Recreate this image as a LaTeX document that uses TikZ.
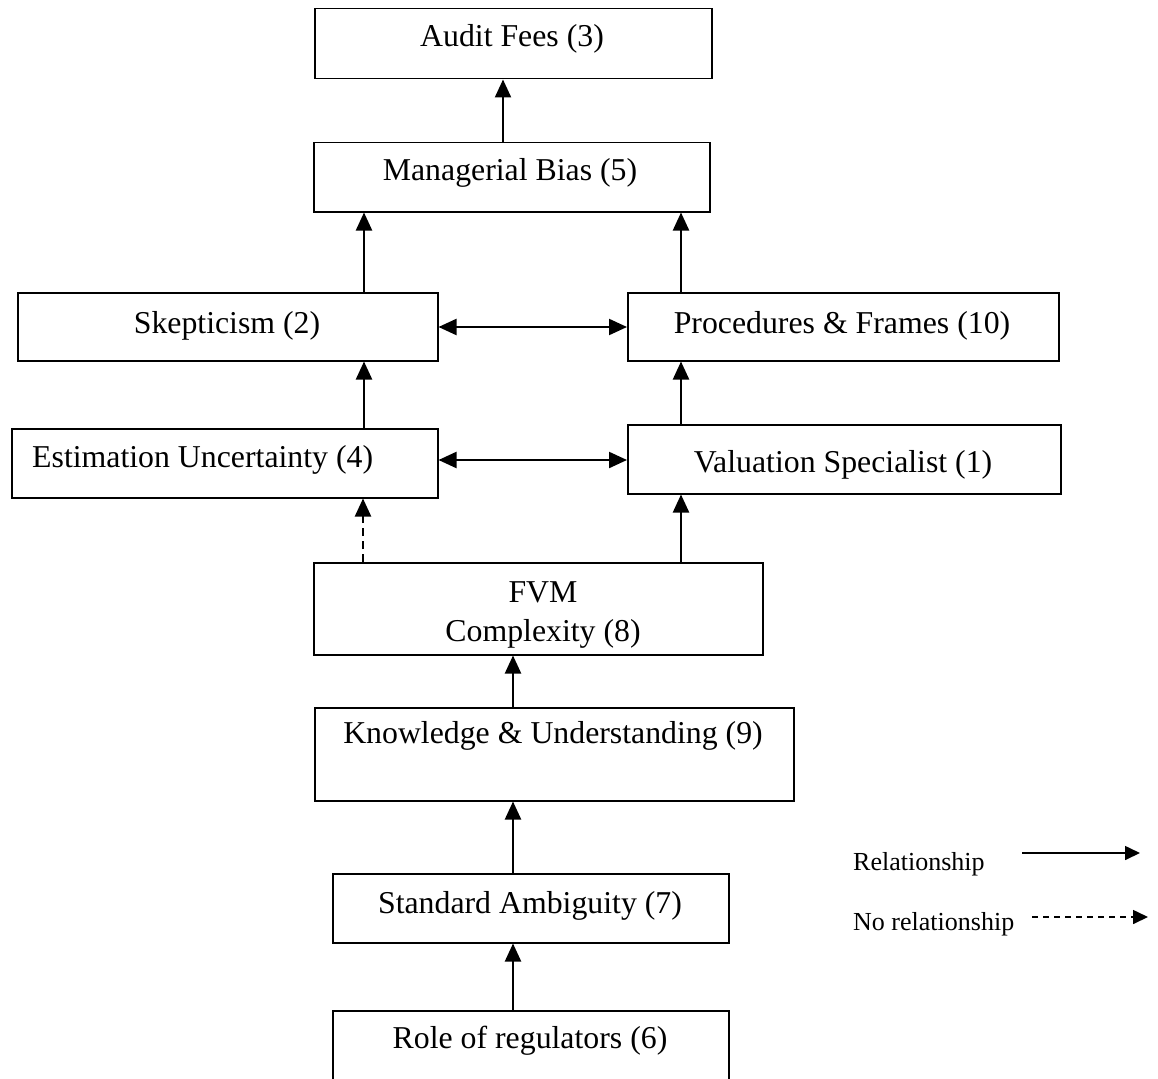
\documentclass[tikz,border=0pt]{standalone}
\usepackage{fontspec}
\setmainfont{Liberation Serif}
\usetikzlibrary{arrows.meta}

\begin{document}
\begin{tikzpicture}[x=1pt,y=-1pt,
  box/.style={draw, line width=1.5pt, inner sep=0pt, anchor=north west},
  lbl/.style={font=\fontsize{31.8}{36}\selectfont, anchor=base, inner sep=0pt},
  leg/.style={font=\fontsize{26}{30}\selectfont, anchor=base west, inner sep=0pt},
  link/.style={line width=2.2pt, -{Triangle[length=18pt,width=16pt]}},
  bilink/.style={line width=2.2pt, {Triangle[length=18pt,width=16pt]}-{Triangle[length=18pt,width=16pt]}},
  nolink/.style={link, dash pattern=on 8pt off 5pt}]

\useasboundingbox (0,0) rectangle (1158,1078);
\clip (0,0) rectangle (1158,1078);

% boxes (top-left corner, width x height)
\node[box, minimum width=397pt, minimum height=70pt] (af) at (314,8) {};
\node[box, minimum width=396pt, minimum height=69pt] (mb) at (313,142) {};
\node[box, minimum width=420pt, minimum height=68pt] (sk) at (17,292) {};
\node[box, minimum width=431pt, minimum height=68pt] (pf) at (627,292) {};
\node[box, minimum width=426pt, minimum height=69pt] (eu) at (11,428) {};
\node[box, minimum width=433pt, minimum height=69pt] (vs) at (627,424) {};
\node[box, minimum width=449pt, minimum height=92pt] (fvm) at (313,562) {};
\node[box, minimum width=479pt, minimum height=93pt] (ku) at (314,707) {};
\node[box, minimum width=396pt, minimum height=69pt] (sa) at (332,873) {};
\node[box, minimum width=396pt, minimum height=80pt] (rr) at (332,1010) {};

% box texts
\node[lbl] (taf) at (512,47) {Audit Fees (3)};
\node[lbl] (tmb) at (510,180) {Managerial Bias (5)};
\node[lbl] (tsk) at (227,333) {Skepticism (2)};
\node[lbl] (tpf) at (842,333) {Procedures \& Frames (10)};
\node[lbl, anchor=base west] (teu) at (32,467) {Estimation Uncertainty (4)};
\node[lbl] (tvs) at (843,472) {Valuation Specialist (1)};
\node[lbl] (tfvm1) at (543,602) {FVM};
\begin{scope}
  \clip (313,562) rectangle (762,653);
  \node[lbl] (tfvm2) at (543,641) {Complexity (8)};
\end{scope}
\node[lbl] (tku) at (553,743) {Knowledge \& Understanding (9)};
\node[lbl] (tsa) at (530,913) {Standard Ambiguity (7)};
\node[lbl] (trr) at (530,1048) {Role of regulators (6)};

% relationships
\draw[link] (mb.north -| 503,0) -- (af.south -| 503,0);
\draw[link] (sk.north -| 364,0) -- (mb.south -| 364,0);
\draw[link] (pf.north -| 681,0) -- (mb.south -| 681,0);
\draw[bilink] (sk.east |- 0,327) -- (pf.west |- 0,327);
\draw[link] (eu.north -| 364,0) -- (sk.south -| 364,0);
\draw[link] (vs.north -| 681,0) -- (pf.south -| 681,0);
\draw[bilink] (eu.east |- 0,460) -- (vs.west |- 0,460);
\draw[nolink] (fvm.north -| 363,0) -- (eu.south -| 363,0);
\draw[link] (fvm.north -| 681,0) -- (vs.south -| 681,0);
\draw[link] (ku.north -| 513,0) -- (fvm.south -| 513,0);
\draw[link] (sa.north -| 513,0) -- (ku.south -| 513,0);
\draw[link] (rr.north -| 513,0) -- (sa.south -| 513,0);

% legend
\node[leg] (lrel) at (853,870) {Relationship};
\node[leg] (lno) at (853,930) {No relationship};
\coordinate (r1) at (1022,853);
\coordinate (r2) at (1140,853);
\coordinate (n1) at (1032,917);
\coordinate (n2) at (1148,917);
\draw[line width=1.6pt, -{Triangle[length=15pt,width=14pt]}] (r1) -- (r2);
\draw[line width=1.6pt, dash pattern=on 6pt off 5pt, -{Triangle[length=15pt,width=14pt]}] (n1) -- (n2);
\end{tikzpicture}
\end{document}
